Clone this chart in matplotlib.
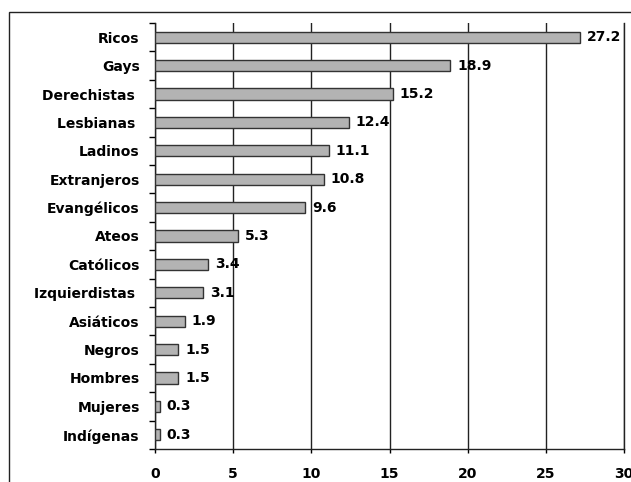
import matplotlib.pyplot as plt
import matplotlib.patches as patches
from matplotlib.ticker import FixedLocator

# datos
categorias = ["Ricos", "Gays", "Derechistas ", "Lesbianas ", "Ladinos", "Extranjeros",
              "Evangélicos", "Ateos", "Católicos", "Izquierdistas ", "Asiáticos",
              "Negros", "Hombres", "Mujeres", "Indígenas"]
valores = [27.2, 18.9, 15.2, 12.4, 11.1, 10.8, 9.6, 5.3, 3.4, 3.1, 1.9, 1.5, 1.5, 0.3, 0.3]
xticks = [0, 5, 10, 15, 20, 25, 30]

plt.rcParams['font.family'] = ['DejaVu Sans']
plt.rcParams['font.weight'] = 'bold'

fig = plt.figure(figsize=(6.31, 4.82), dpi=100)
ax = fig.add_axes([155 / 631, 33 / 482, (624 - 155) / 631, (449 - 23) / 482])

# marco exterior (recortado a la derecha y abajo)
fig.patches.append(patches.Rectangle((9 / 631, -0.1), 1.2, 1 - 12 / 482 + 0.1,
                                     transform=fig.transFigure, fill=False,
                                     edgecolor="#222222", linewidth=1, clip_on=False))

pos = list(range(len(categorias)))
ax.barh(pos, valores, height=0.4, color="#b3b3b3", edgecolor="#333333", linewidth=1, zorder=3)

for y, v in zip(pos, valores):
    ax.text(v + 0.45, y, f"{v}", va="center", ha="left", fontsize=10, fontweight="bold", zorder=4)

ax.set_xlim(0, 30)
ax.set_ylim(len(categorias) - 0.5, -0.5)
ax.set_xticks(xticks)
ax.set_yticks(pos)
ax.set_yticklabels(categorias, fontsize=10, fontweight="bold")
ax.tick_params(axis="y", length=0, pad=11)
ax.yaxis.set_minor_locator(FixedLocator([p - 0.5 for p in pos] + [len(pos) - 0.5]))
ax.tick_params(axis="y", which="minor", length=4, direction="out", width=1)
ax.tick_params(axis="x", length=3, direction="out", width=1, labelsize=10, pad=10)
for lbl in ax.get_xticklabels():
    lbl.set_fontweight("bold")

ax.grid(axis="x", color="#222222", linewidth=1, zorder=0)
ax.spines["top"].set_visible(False)
for s in ["left", "bottom", "right"]:
    ax.spines[s].set_color("#222222")
    ax.spines[s].set_linewidth(1)

fig.savefig("out.png", dpi=100)
